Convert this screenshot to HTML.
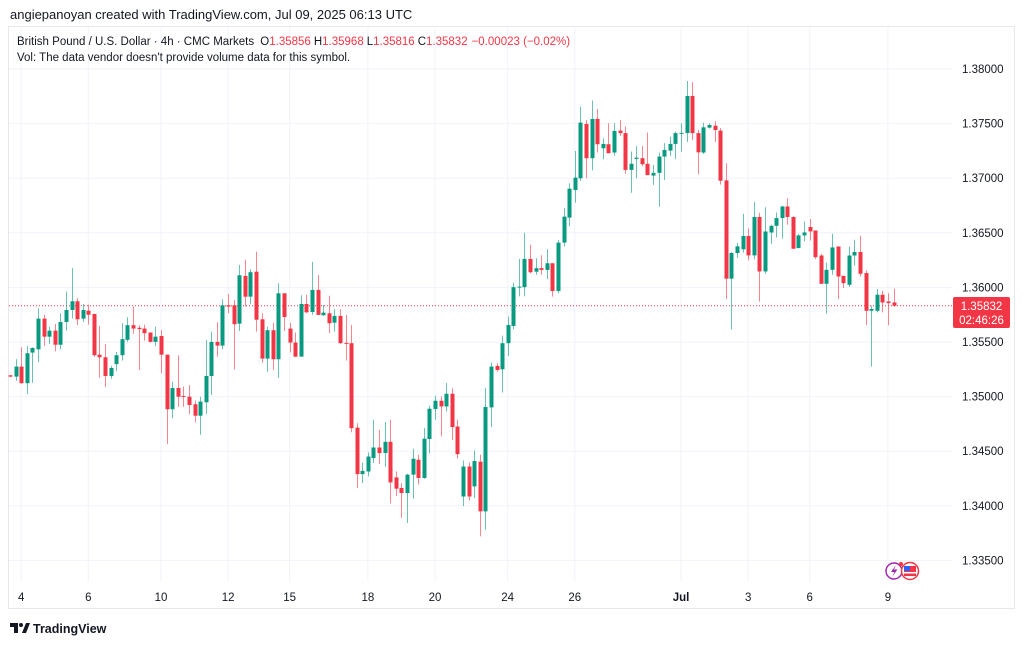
<!DOCTYPE html>
<html><head><meta charset="utf-8">
<style>
html,body{margin:0;padding:0;background:#fff;}
body{width:1024px;height:642px;overflow:hidden;position:relative;font-family:"Liberation Sans","DejaVu Sans",sans-serif;}
svg text{font-family:"Liberation Sans","DejaVu Sans",sans-serif;}
</style></head>
<body>
<svg id="chart" width="1024" height="642" xmlns="http://www.w3.org/2000/svg">
<rect x="0" y="0" width="1024" height="642" fill="#fff"/>
<text x="10" y="19" font-size="13" fill="#131722">angiepanoyan created with TradingView.com, Jul 09, 2025 06:13 UTC</text>
<rect x="8.5" y="26.5" width="1006" height="582" fill="none" stroke="#e6e8ec"/>
<g id="grid"></g>
<g id="candles"></g>
<g id="axes"></g>
<text x="17" y="45" font-size="11.5" fill="#131722">British Pound / U.S. Dollar · 4h · CMC Markets <tspan dx="3">O</tspan><tspan fill="#f23645">1.35856</tspan><tspan dx="3">H</tspan><tspan fill="#f23645">1.35968</tspan><tspan dx="3">L</tspan><tspan fill="#f23645">1.35816</tspan><tspan dx="3">C</tspan><tspan fill="#f23645">1.35832</tspan><tspan dx="4" fill="#f23645">−0.00023 (−0.02%)</tspan></text>
<text x="17" y="61" font-size="11.5" fill="#131722">Vol: The data vendor doesn't provide volume data for this symbol.</text>
<g>
<circle cx="894" cy="571" r="8" fill="#fff" stroke="#9c27b0" stroke-width="1.5"/>
<path d="M896 565 L891 572 L894.5 572 L892 577 L897.5 569.5 L894 569.5 Z" fill="#9c27b0"/>
<circle cx="910" cy="571" r="8.5" fill="#fff" stroke="#f23645" stroke-width="1.5"/>
<rect x="904" y="566" width="12" height="10" fill="#f23645"/>
<rect x="904" y="566" width="6" height="5" fill="#2962ff"/>
<rect x="904" y="572" width="12" height="1.5" fill="#fff"/>
<circle cx="901" cy="564" r="2" fill="#f23645"/>
</g>
<g>
<rect x="953" y="297" width="57" height="31" rx="2" fill="#f23645"/>
<text x="981.5" y="310" font-size="11.5" fill="#fff" text-anchor="middle">1.35832</text>
<text x="981.5" y="324" font-size="11.5" fill="#fff" text-anchor="middle">02:46:26</text>
</g>
<g>
<path d="M10 623 h8 v10 h-4 v-6 h-4 z" fill="#131722"/>
<circle cx="21" cy="625" r="2" fill="#131722"/>
<path d="M22 633 l4 -10 h4 l-4 10 z" fill="#131722"/>
<text x="33" y="633" font-size="12.5" font-weight="bold" fill="#131722">TradingView</text>
</g>
</svg>
<script>
const opens=[1.35195,1.35183,1.35275,1.35123,1.35403,1.35433,1.35714,1.35549,1.35604,1.35475,1.35683,1.35793,1.35873,1.35714,1.35787,1.35757,1.35384,1.35360,1.35189,1.35297,1.35379,1.35520,1.35654,1.35630,1.35623,1.35587,1.35501,1.35555,1.35384,1.34884,1.35079,1.35006,1.34999,1.34930,1.34825,1.34948,1.35189,1.35501,1.35467,1.35836,1.35836,1.35668,1.36105,1.35915,1.36144,1.35708,1.35348,1.35608,1.35342,1.35946,1.35623,1.35495,1.35366,1.35848,1.35775,1.35977,1.35745,1.35763,1.35677,1.35739,1.35492,1.35489,1.34716,1.34290,1.34314,1.34437,1.34534,1.34483,1.34586,1.34260,1.34163,1.34117,1.34285,1.34422,1.34255,1.34612,1.34886,1.34962,1.34910,1.35026,1.34726,1.34085,1.34360,1.34178,1.34404,1.33949,1.34901,1.35281,1.35250,1.35489,1.35647,1.36002,1.36002,1.36261,1.36144,1.36176,1.36160,1.36221,1.35967,1.36410,1.36639,1.36892,1.36999,1.37497,1.37183,1.37543,1.37274,1.37311,1.37235,1.37436,1.37413,1.37076,1.37176,1.37183,1.37132,1.37024,1.37049,1.37198,1.37253,1.37314,1.37409,1.37413,1.37753,1.37413,1.37235,1.37463,1.37481,1.37436,1.36980,1.36080,1.36315,1.36349,1.36471,1.36293,1.36645,1.36146,1.36503,1.36564,1.36635,1.36741,1.36645,1.36360,1.36476,1.36553,1.36521,1.36292,1.36033,1.36161,1.36375,1.36106,1.36024,1.36292,1.36324,1.36131,1.35786,1.35786,1.35933,1.35871,1.35862];
const highs=[1.35198,1.35343,1.35452,1.35463,1.35452,1.35809,1.35748,1.35641,1.35665,1.35763,1.35961,1.36178,1.35903,1.35848,1.35842,1.35757,1.35647,1.35481,1.35281,1.35409,1.35672,1.35727,1.35824,1.35654,1.35659,1.35587,1.35641,1.35610,1.35384,1.35136,1.35379,1.35092,1.35105,1.34963,1.34999,1.35519,1.35595,1.35681,1.35891,1.35939,1.35885,1.36206,1.36251,1.36166,1.36327,1.35763,1.35641,1.35676,1.36038,1.35946,1.35676,1.35587,1.35928,1.35933,1.36233,1.36114,1.35839,1.35924,1.35800,1.35800,1.35748,1.35656,1.34756,1.34396,1.34488,1.34788,1.34696,1.34767,1.34788,1.34315,1.34208,1.34294,1.34523,1.34468,1.34712,1.34917,1.35008,1.35001,1.35124,1.35075,1.34788,1.34415,1.34396,1.34507,1.34468,1.35078,1.35312,1.35306,1.35558,1.35733,1.36044,1.36261,1.36502,1.36391,1.36267,1.36294,1.36349,1.36221,1.36434,1.36725,1.36954,1.37249,1.37655,1.37533,1.37711,1.37634,1.37366,1.37503,1.37503,1.37533,1.37474,1.37244,1.37295,1.37295,1.37419,1.37122,1.37235,1.37321,1.37381,1.37426,1.37503,1.37890,1.37881,1.37441,1.37508,1.37503,1.37524,1.37458,1.37137,1.36324,1.36407,1.36675,1.36539,1.36782,1.36682,1.36734,1.36574,1.36686,1.36748,1.36818,1.36650,1.36491,1.36604,1.36626,1.36521,1.36307,1.36228,1.36491,1.36375,1.36106,1.36375,1.36436,1.36473,1.36156,1.35832,1.35985,1.35968,1.35946,1.35989];
const lows=[1.35177,1.35144,1.35117,1.35024,1.35126,1.35314,1.35463,1.35481,1.35414,1.35433,1.35604,1.35714,1.35654,1.35683,1.35659,1.35366,1.35171,1.35087,1.35164,1.35232,1.35330,1.35501,1.35574,1.35244,1.35513,1.35495,1.35463,1.35213,1.34565,1.34802,1.34907,1.34907,1.34840,1.34765,1.34651,1.34840,1.35015,1.35366,1.35433,1.35763,1.35251,1.35601,1.35824,1.35846,1.35595,1.35311,1.35227,1.35244,1.35171,1.35601,1.35404,1.35360,1.35366,1.35763,1.35748,1.35748,1.35739,1.35581,1.35595,1.35483,1.35330,1.34674,1.34162,1.34208,1.34270,1.34391,1.34382,1.34355,1.34022,1.34089,1.33889,1.33843,1.34064,1.34195,1.34246,1.34481,1.34788,1.34636,1.34864,1.34603,1.34433,1.33998,1.34049,1.34071,1.33720,1.33781,1.34721,1.35229,1.35037,1.35372,1.35617,1.35918,1.35918,1.36130,1.36116,1.36116,1.36076,1.35915,1.35946,1.36373,1.36560,1.36776,1.36975,1.36999,1.37072,1.37235,1.37173,1.37229,1.37206,1.37389,1.37040,1.36867,1.36999,1.37111,1.37028,1.36939,1.36740,1.36984,1.37203,1.37173,1.37242,1.37332,1.37350,1.37036,1.37222,1.37454,1.37332,1.36941,1.35893,1.35615,1.36270,1.36318,1.36247,1.36257,1.35870,1.36124,1.36400,1.36457,1.36448,1.36574,1.36354,1.36360,1.36421,1.36430,1.36259,1.36033,1.35760,1.36116,1.35893,1.35993,1.36005,1.36199,1.36100,1.35653,1.35274,1.35771,1.35771,1.35653,1.35823];
const closes=[1.35183,1.35275,1.35123,1.35397,1.35445,1.35714,1.35549,1.35604,1.35475,1.35683,1.35793,1.35873,1.35708,1.35793,1.35750,1.35379,1.35360,1.35189,1.35262,1.35379,1.35526,1.35654,1.35623,1.35618,1.35581,1.35501,1.35549,1.35384,1.34884,1.35079,1.34999,1.34997,1.34923,1.34825,1.34954,1.35189,1.35501,1.35467,1.35836,1.35824,1.35663,1.36111,1.35915,1.36139,1.35704,1.35348,1.35608,1.35342,1.35946,1.35729,1.35495,1.35366,1.35848,1.35772,1.35977,1.35748,1.35769,1.35672,1.35739,1.35489,1.35483,1.34711,1.34290,1.34320,1.34451,1.34534,1.34483,1.34586,1.34214,1.34157,1.34117,1.34285,1.34431,1.34255,1.34615,1.34889,1.34962,1.34910,1.35026,1.34721,1.34473,1.34360,1.34085,1.34410,1.33949,1.34905,1.35275,1.35244,1.35489,1.35656,1.36002,1.36007,1.36261,1.36139,1.36176,1.36160,1.36221,1.35967,1.36410,1.36648,1.36904,1.37005,1.37509,1.37183,1.37543,1.37311,1.37314,1.37229,1.37433,1.37413,1.37076,1.37132,1.37188,1.37128,1.37028,1.37049,1.37198,1.37259,1.37314,1.37413,1.37415,1.37753,1.37413,1.37237,1.37466,1.37487,1.37441,1.36977,1.36080,1.36315,1.36376,1.36471,1.36293,1.36645,1.36146,1.36512,1.36564,1.36635,1.36741,1.36645,1.36354,1.36476,1.36503,1.36513,1.36277,1.36033,1.36161,1.36366,1.36100,1.36039,1.36292,1.36324,1.36125,1.35786,1.35802,1.35933,1.35862,1.35856,1.35832];
const priceTicks=["1.38000","1.37500","1.37000","1.36500","1.36000","1.35500","1.35000","1.34500","1.34000","1.33500"];
const timeLabels=["4","6","10","12","15","18","20","24","26","Jul","3","6","9"];
const timeLabelIndex=[2,14,27,39,50,64,76,89,101,120,132,143,157];
const lastPrice=1.35832;

const NS="http://www.w3.org/2000/svg";
const yOf=p=>69+(1.38-p)*10920;
const xOf=i=>10+i*5.592;
const PANE_R=952, PANE_B=582;
function mk(tag,attrs,parent){const e=document.createElementNS(NS,tag);for(const k in attrs)e.setAttribute(k,attrs[k]);parent.appendChild(e);return e;}
const grid=document.getElementById('grid'), cg=document.getElementById('candles'), ax=document.getElementById('axes');
priceTicks.forEach(t=>{
  const y=yOf(parseFloat(t));
  const l=mk('line',{x1:9,x2:PANE_R,y1:y,y2:y,stroke:'#f0f3fa','stroke-width':1},grid);
  
  
  const tx=mk('text',{x:962,y:y+4,'font-size':11.5,fill:'#131722'},ax);
  tx.textContent=t;
  
  
});
timeLabels.forEach((t,k)=>{
  const x=xOf(timeLabelIndex[k]);
  const l=mk('line',{x1:x,x2:x,y1:27,y2:PANE_B,stroke:'#f0f3fa','stroke-width':1},grid);
  
  
  const tx=mk('text',{x:x,y:601,'font-size':11.5,fill:'#131722','text-anchor':'middle','font-weight':t==='Jul'?'bold':'normal'},ax);
  tx.textContent=t;
  
  
});
const ly=yOf(lastPrice);
const pl=mk('line',{x1:9,x2:PANE_R,y1:ly,y2:ly,stroke:'#f23645','stroke-width':1,'stroke-dasharray':'1,2'},grid);


opens.forEach((o,i)=>{
  const c=closes[i],h=highs[i],lo=lows[i];
  const up=c>=o, col=up?'#089981':'#f23645';
  const x=Math.round(xOf(i));
  const w=mk('line',{x1:x+0.5,x2:x+0.5,y1:yOf(h),y2:yOf(lo),stroke:col,'stroke-width':1,'stroke-opacity':0.6},cg);
  
  
  const top=yOf(Math.max(o,c)), bot=yOf(Math.min(o,c));
  const b=mk('rect',{x:x-1.5,y:top,width:4,height:Math.max(1,bot-top),fill:col},cg);
  
  
});
</script>
</body></html>
